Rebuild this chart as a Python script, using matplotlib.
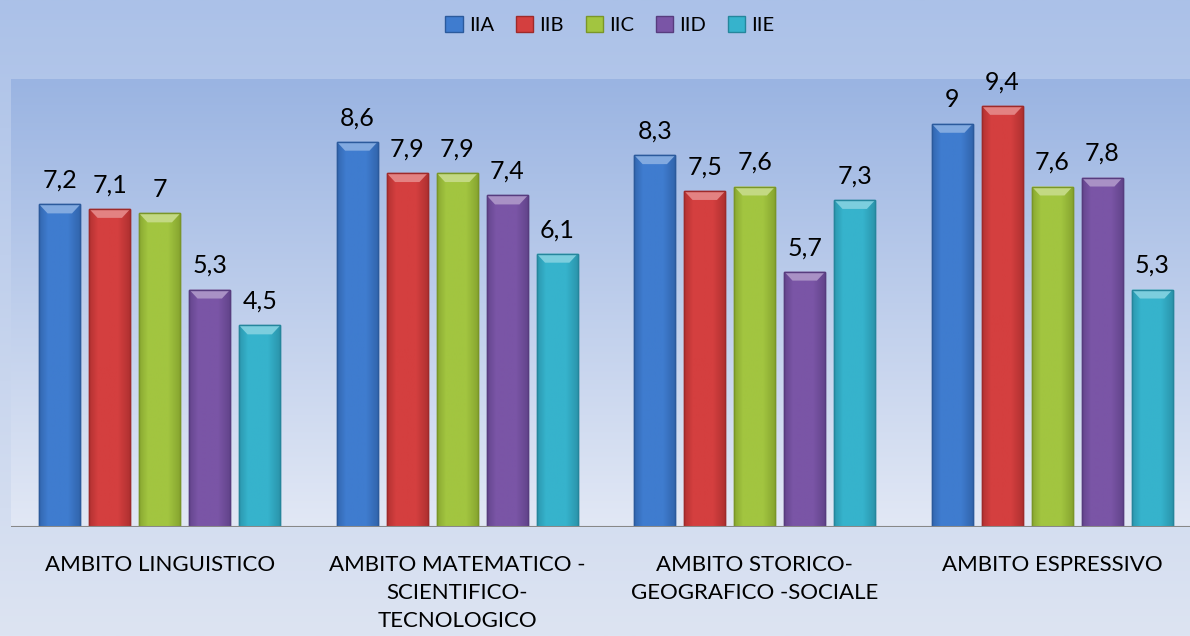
import matplotlib
matplotlib.use("Agg")
import matplotlib.pyplot as plt
import numpy as np
from matplotlib.colors import LinearSegmentedColormap, to_rgb
from matplotlib.patches import Polygon

categories = ["AMBITO LINGUISTICO", "AMBITO MATEMATICO -\nSCIENTIFICO-\nTECNOLOGICO",
              "AMBITO STORICO-\nGEOGRAFICO -SOCIALE", "AMBITO ESPRESSIVO"]
series_names = ["IIA", "IIB", "IIC", "IID", "IIE"]
IIA = [7.2, 8.6, 8.3, 9]
IIB = [7.1, 7.9, 7.5, 9.4]
IIC = [7, 7.9, 7.6, 7.6]
IID = [5.3, 7.4, 5.7, 7.8]
IIE = [4.5, 6.1, 7.3, 5.3]
values = [IIA, IIB, IIC, IID, IIE]
value_labels = [[str(v).replace(".", ",") for v in s] for s in values]

colors = ["#3f7ccf", "#d43f3f", "#a2c540", "#7a55a6", "#36b3cc"]
edges = ["#2b5a9c", "#9e2a2a", "#7a9628", "#573c7e", "#25869c"]

plt.rcParams['font.family'] = ['Lato', 'DejaVu Sans']


def mix(c1, c2, t):
    a, b = np.array(to_rgb(c1)), np.array(to_rgb(c2))
    return tuple(a * (1 - t) + b * t)


fig = plt.figure(figsize=(11.9, 6.36), dpi=100)
bg = fig.add_axes([0, 0, 1, 1], zorder=-10)
grad = np.linspace(0, 1, 256).reshape(-1, 1)
cm_bg = LinearSegmentedColormap.from_list("bg", ["#abc1e8", "#dde4f2"])
bg.imshow(grad, aspect='auto', cmap=cm_bg, extent=[0, 1, 0, 1], origin='upper')
bg.set_axis_off()

W, H = 1190, 636
left, right, top, bottom = 11, 1201, 79, 527
ax = fig.add_axes([left / W, 1 - bottom / H, (right - left) / W, (bottom - top) / H])
ax.set_xlim(-0.5, len(categories) - 0.5)
ax.set_ylim(0, 10)
cm_pa = LinearSegmentedColormap.from_list("pa", ["#9ab4e2", "#e2e8f5"])
ax.imshow(grad, aspect='auto', cmap=cm_pa, extent=[-0.5, len(categories) - 0.5, 0, 10],
          origin='upper', zorder=0)

x = np.arange(len(categories))
bw = 0.138
step = 0.168
bev_y = 0.2
bev_x = 0.028
prof = np.concatenate([np.linspace(0.6, 0.0, 10), np.zeros(20), np.linspace(0.0, 0.7, 14)])
for i, (s, c, e) in enumerate(zip(values, colors, edges)):
    pos = x + (i - 2) * step
    bars = ax.bar(pos, s, width=bw, color=c, edgecolor=e, linewidth=1.0, zorder=3,
                  label=series_names[i])
    rowcols = np.array([mix(c, e, t) for t in prof]).reshape(1, -1, 3)
    for b, lab in zip(bars, value_labels[i]):
        x0, w, h = b.get_x(), b.get_width(), b.get_height()
        im = ax.imshow(rowcols, aspect='auto', extent=[x0, x0 + w, 0, h], zorder=3.5,
                       interpolation='bilinear')
        im.set_clip_path(b)
        top_poly = Polygon([[x0, h], [x0 + w, h], [x0 + w - bev_x, h - bev_y],
                            [x0 + bev_x, h - bev_y]], closed=True,
                           facecolor=mix(c, 'white', 0.35), edgecolor='none', zorder=3.8)
        ax.add_patch(top_poly)
        ax.bar(x0 + w / 2, h, width=w, fill=False, edgecolor=e, linewidth=1.0, zorder=3.9)
        ax.text(x0 + w / 2, h + 0.28, lab,
                ha='center', va='bottom', fontsize=18, color='black', zorder=5)

ax.set_xlim(-0.5, len(categories) - 0.5)
ax.set_ylim(0, 10)
ax.axhline(0, color='#888888', linewidth=1.5, zorder=6)
ax.set_xticks(x)
ax.set_xticklabels(categories, fontsize=16, linespacing=1.5)
ax.tick_params(axis='x', length=0, pad=20)
ax.set_yticks([])
for sp in ax.spines.values():
    sp.set_visible(False)

handles = [plt.Rectangle((0, 0), 1, 1, facecolor=c, edgecolor=e) for c, e in zip(colors, edges)]
fig.legend(handles, series_names, loc='center', bbox_to_anchor=(610 / W, 1 - 25 / H), ncol=5,
           frameon=False, fontsize=14.5, handlelength=0.85, handleheight=0.85,
           handletextpad=0.3, columnspacing=1.1)

fig.savefig("out.png", dpi=100)
